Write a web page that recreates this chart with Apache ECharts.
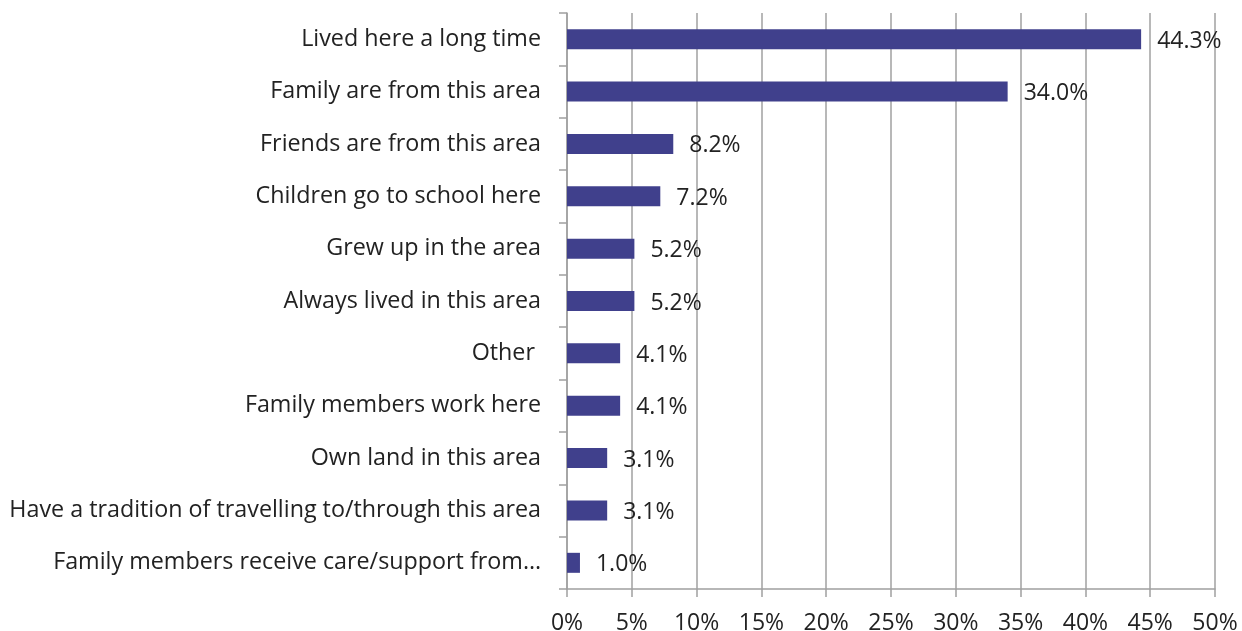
<!DOCTYPE html>
<html><head><meta charset="utf-8">
<script src="https://cdn.jsdelivr.net/npm/echarts@6/dist/echarts.min.js"></script>
<style>html,body{margin:0;padding:0;background:#fff}#c{width:1242px;height:631px}</style>
</head><body><div id="c"></div>
<script>
const categories = [
  "Lived here a long time",
  "Family are from this area",
  "Friends are from this area",
  "Children go to school here",
  "Grew up in the area",
  "Always lived in this area",
  "Other ",
  "Family members work here",
  "Own land in this area",
  "Have a tradition of travelling to/through this area",
  "Family members receive care/support from…"
];
const values = [44.3, 34.0, 8.2, 7.2, 5.2, 5.2, 4.1, 4.1, 3.1, 3.1, 1.0];
const xTicks = [0, 5, 10, 15, 20, 25, 30, 35, 40, 45, 50];

const chart = echarts.init(document.getElementById('c'), null, {renderer: 'canvas'});
const font = '"Open Sans", sans-serif';
const gray = '#a0a0a0';
chart.setOption({
  animation: false,
  grid: {left: 567, right: 27, top: 13, bottom: 42, containLabel: false, outerBoundsMode: 'none'},
  xAxis: {
    type: 'value', min: xTicks[0], max: xTicks[xTicks.length - 1], interval: 5,
    axisLine: {show: true, lineStyle: {color: gray, width: 1.5}},
    axisTick: {show: true, length: 8, lineStyle: {color: gray, width: 1.5}},
    splitLine: {show: true, lineStyle: {color: gray, width: 1.5}},
    axisLabel: {formatter: v => v + '%', color: '#222', fontSize: 23, fontFamily: font, margin: 23}
  },
  yAxis: {
    type: 'category', data: categories, inverse: true,
    axisLine: {show: true, lineStyle: {color: gray, width: 1.5}},
    axisTick: {show: true, length: 8, lineStyle: {color: gray, width: 1.5}},
    axisLabel: {color: '#222', fontSize: 23.3, fontFamily: font, margin: 26, padding: [4, 0, 0, 0]}
  },
  series: [{
    type: 'bar', data: values, barWidth: 20,
    itemStyle: {color: '#40408c'},
    label: {show: true, position: 'right', distance: 16, formatter: p => p.value.toFixed(1) + '%',
      color: '#222', fontSize: 23, fontFamily: font, offset: [0, 2]}
  }]
});
</script></body></html>
